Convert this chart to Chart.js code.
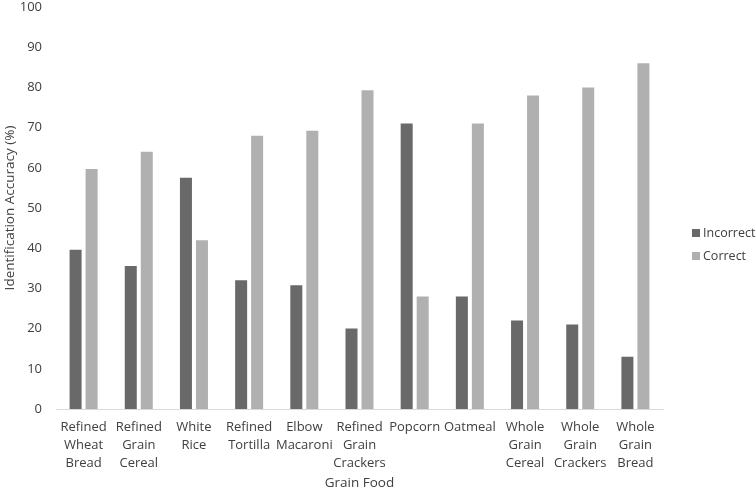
<!DOCTYPE html>
<html><head><meta charset="utf-8">
<script src="https://cdn.jsdelivr.net/npm/chart.js@4/dist/chart.umd.min.js"></script>
<style>html,body{margin:0;padding:0;background:#fff}#wrap{width:756px;height:492px}</style>
</head><body><div id="wrap"><canvas id="c"></canvas></div>
<script>
const categories = [
  ["Refined","Wheat","Bread"],["Refined","Grain","Cereal"],["White","Rice"],["Refined","Tortilla"],
  ["Elbow","Macaroni"],["Refined","Grain","Crackers"],["Popcorn"],["Oatmeal"],
  ["Whole","Grain","Cereal"],["Whole","Grain","Crackers"],["Whole","Grain","Bread"]
];
const seriesNames = ["Incorrect", "Correct"];
const incorrect = [39.6, 35.6, 57.5, 32, 30.8, 20, 71, 28, 22, 21, 13];
const correct   = [59.7, 64, 42, 68, 69.2, 79.3, 28, 71, 78, 80, 86];
const yTicks = {min: 0, max: 100, step: 10};

const txt = '#404040';
const fam = '"Open Sans", Lato, sans-serif';

const sideLegend = {
  id: 'sideLegend',
  afterDraw(chart) {
    const ctx = chart.ctx, area = chart.chartArea;
    const n = chart.data.datasets.length, gap = 23;
    const cy = 244.5;
    const x0 = area.right + 29;
    ctx.save();
    ctx.font = '12.5px ' + fam;
    ctx.textBaseline = 'middle';
    ctx.textAlign = 'left';
    chart.data.datasets.forEach((ds, i) => {
      const y = cy + (i - (n - 1) / 2) * gap;
      ctx.fillStyle = ds.backgroundColor;
      ctx.fillRect(x0, y - 4, 8, 8);
      ctx.fillStyle = txt;
      ctx.fillText(ds.label, x0 + 11, y);
    });
    ctx.restore();
  }
};

new Chart(document.getElementById('c'), {
  type: 'bar',
  data: {
    labels: categories,
    datasets: [
      {label: seriesNames[0], data: incorrect, backgroundColor: '#696969', borderWidth: 0,
       categoryPercentage: 0.58, barPercentage: 0.75},
      {label: seriesNames[1], data: correct, backgroundColor: '#b0b0b0', borderWidth: 0,
       categoryPercentage: 0.58, barPercentage: 0.75}
    ]
  },
  plugins: [sideLegend],
  options: {
    responsive: true, maintainAspectRatio: false, animation: false,
    layout: {padding: {top: 0, right: 93, left: 2, bottom: 0}},
    plugins: {
      legend: {display: false},
      tooltip: {enabled: false}
    },
    scales: {
      x: {
        grid: {display: false, drawTicks: false},
        border: {display: true, color: '#d9d9d9', width: 1},
        ticks: {color: txt, font: {family: fam, size: 13, lineHeight: 1.35}, maxRotation: 0, autoSkip: false, padding: 10},
        title: {display: true, text: 'Grain Food', color: txt, font: {family: fam, size: 13.5}, padding: {top: 0, bottom: 1}},
        afterFit(s) { s.height = 83; }
      },
      y: {
        min: yTicks.min, max: yTicks.max,
        grid: {display: false, drawTicks: false},
        border: {display: false},
        ticks: {stepSize: yTicks.step, color: txt, font: {family: fam, size: 13}, padding: 14},
        title: {display: true, text: 'Identification Accuracy (%)', color: txt, font: {family: fam, size: 13.5}, padding: {top: 0, bottom: 0}},
        afterFit(s) { s.width = 54; s.paddingTop = 7; }
      }
    }
  }
});
</script></body></html>
